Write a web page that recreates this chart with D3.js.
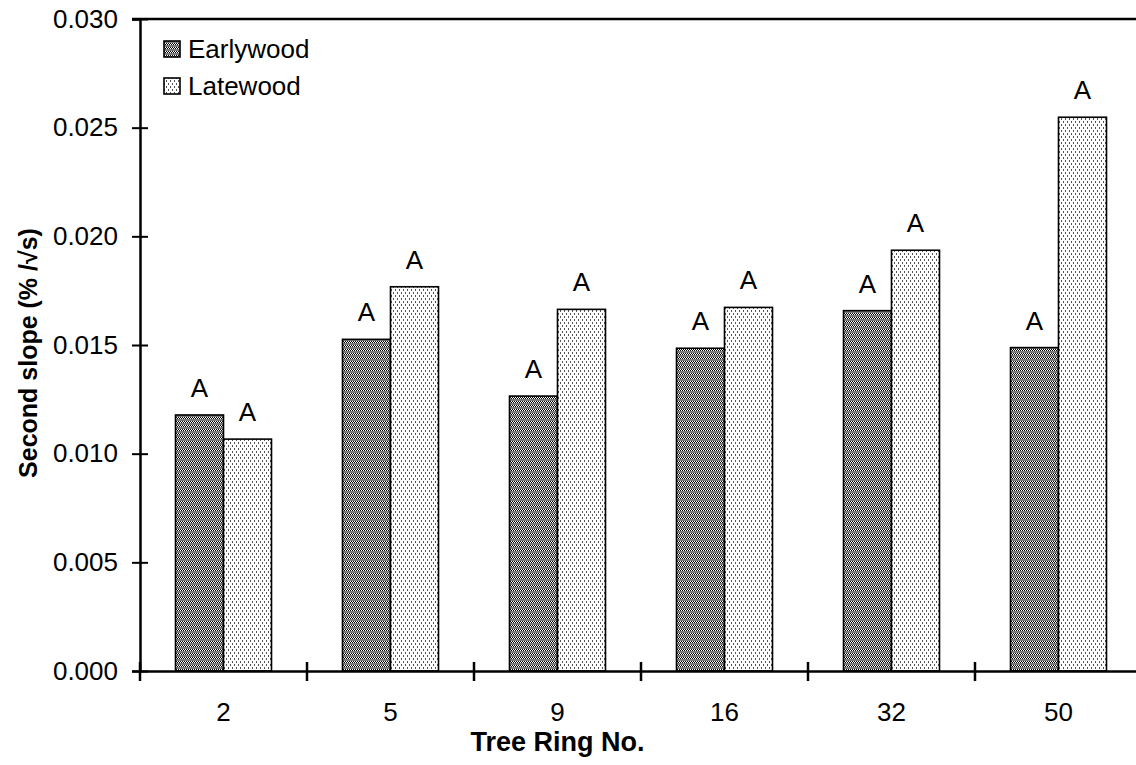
<!DOCTYPE html>
<html>
<head>
<meta charset="utf-8">
<script src="https://cdn.jsdelivr.net/npm/d3@7"></script>
<style>
  body { margin: 0; background: #fff; }
  text { font-family: Arial, "Liberation Sans", sans-serif; fill: #000; }
</style>
</head>
<body>
<svg id="chart" width="1136" height="765"></svg>
<script>
// data
const rings = ["2", "5", "9", "16", "32", "50"];
const seriesNames = ["Earlywood", "Latewood"];
const earlywood = [0.01178, 0.01526, 0.01265, 0.01485, 0.01658, 0.01488];
const latewood  = [0.01067, 0.01768, 0.01664, 0.01673, 0.01936, 0.02548];
const earlyLetters = ["A", "A", "A", "A", "A", "A"];
const lateLetters  = ["A", "A", "A", "A", "A", "A"];
const yTicks = [0, 0.005, 0.010, 0.015, 0.020, 0.025, 0.030];

const margin = { top: 19, left: 140 },
      width = 1002,
      height = 652;

const svg = d3.select("#chart");
const defs = svg.append("defs");

// earlywood fill: grey stripes with checker rows
const pe = defs.append("pattern")
    .attr("id", "patEarly")
    .attr("patternUnits", "userSpaceOnUse")
    .attr("width", 2).attr("height", 4);
pe.append("rect").attr("width", 2).attr("height", 4).attr("fill", "#fff");
pe.append("rect").attr("width", 2).attr("height", 2).attr("fill", "#7c7c7c");
pe.append("rect").attr("x", 0).attr("y", 2).attr("width", 1).attr("height", 1).attr("fill", "#000");
pe.append("rect").attr("x", 1).attr("y", 3).attr("width", 1).attr("height", 1).attr("fill", "#000");
pe.selectAll("rect").attr("shape-rendering", "crispEdges");

// latewood fill: white with sparse dots
const pl = defs.append("pattern")
    .attr("id", "patLate")
    .attr("patternUnits", "userSpaceOnUse")
    .attr("width", 4).attr("height", 6);
pl.append("rect").attr("width", 4).attr("height", 6).attr("fill", "#fff");
pl.append("rect").attr("x", 0).attr("y", 0).attr("width", 1).attr("height", 2).attr("fill", "#555");
pl.append("rect").attr("x", 2).attr("y", 3).attr("width", 1).attr("height", 2).attr("fill", "#555");
pl.selectAll("rect").attr("shape-rendering", "crispEdges");

const fills = ["url(#patEarly)", "url(#patLate)"];

const g = svg.append("g")
    .attr("transform", `translate(${margin.left},${margin.top})`);

// scales
const x0 = d3.scaleBand().domain(rings).range([0, width]).padding(0);
const bw = x0.bandwidth();
const x1 = d3.scaleBand().domain(seriesNames).range([bw / 2 - 48, bw / 2 + 48]).padding(0);
const y = d3.scaleLinear().domain([0, 0.030]).range([height, 0]);

const rows = rings.map((r, i) => ({
    ring: r,
    vals: [
        { key: seriesNames[0], v: earlywood[i], letter: earlyLetters[i] },
        { key: seriesNames[1], v: latewood[i], letter: lateLetters[i] }
    ]
}));

// bars
const grp = g.selectAll(".grp")
    .data(rows)
    .enter()
    .append("g")
    .attr("transform", d => `translate(${x0(d.ring)},0)`);

grp.selectAll("rect")
    .data(d => d.vals)
    .enter()
    .append("rect")
    .attr("x", d => x1(d.key))
    .attr("y", d => y(d.v))
    .attr("width", x1.bandwidth())
    .attr("height", d => height - y(d.v))
    .attr("fill", (d, i) => fills[i])
    .attr("stroke", "#000")
    .attr("stroke-width", 1.6);

// significance letters
grp.selectAll(".lbl")
    .data(d => d.vals)
    .enter()
    .append("text")
    .attr("x", d => x1(d.key) + x1.bandwidth() / 2)
    .attr("y", d => y(d.v) - 18)
    .attr("text-anchor", "middle")
    .style("font-size", "26px")
    .text(d => d.letter);

// top frame line
g.append("line")
    .attr("x1", -8).attr("x2", width)
    .attr("y1", 0).attr("y2", 0)
    .attr("stroke", "#000").attr("stroke-width", 2.5);
g.append("line")
    .attr("x1", width).attr("x2", width)
    .attr("y1", 0).attr("y2", height)
    .attr("stroke", "#000").attr("stroke-width", 2.5);

// Y axis
const yAxis = g.append("g")
    .call(d3.axisLeft(y).tickValues(yTicks).tickFormat(d3.format(".3f")).tickSize(8).tickPadding(14));
yAxis.select(".domain").attr("stroke-width", 2.5);
yAxis.selectAll(".tick line").attr("x1", -8).attr("x2", 8).attr("stroke-width", 2);
yAxis.selectAll(".tick text")
    .style("font-size", "26px")
    .style("font-family", "Arial, 'Liberation Sans', sans-serif");

// X axis
const xAxis = g.append("g")
    .attr("transform", `translate(0,${height})`)
    .call(d3.axisBottom(x0).tickSize(0).tickPadding(32));
xAxis.select(".domain").attr("stroke-width", 2.5);
xAxis.selectAll(".tick text")
    .style("font-size", "26px")
    .style("font-family", "Arial, 'Liberation Sans', sans-serif");

// x tick marks at category boundaries
const bounds = rings.map(r => x0(r)).concat([width]);
g.selectAll(".xtick")
    .data(bounds)
    .enter()
    .append("line")
    .attr("x1", d => d).attr("x2", d => d)
    .attr("y1", height - 9).attr("y2", height + 10)
    .attr("stroke", "#000").attr("stroke-width", 2.5);

// axis titles
svg.append("text")
    .attr("x", margin.left + x0("9") + bw / 2)
    .attr("y", 751)
    .attr("text-anchor", "middle")
    .style("font-size", "27px")
    .style("font-weight", "bold")
    .text("Tree Ring No.");

svg.append("text")
    .attr("transform", `translate(37,${margin.top + height / 2 + 8}) rotate(-90)`)
    .attr("text-anchor", "middle")
    .style("font-size", "25px")
    .style("font-weight", "bold")
    .text("Second slope (% /\u221As)");

// legend
const legend = svg.append("g").attr("transform", "translate(164,41)");
seriesNames.forEach((name, i) => {
    legend.append("rect")
        .attr("x", 0).attr("y", i * 37)
        .attr("width", 16).attr("height", 16)
        .attr("fill", fills[i])
        .attr("stroke", "#000").attr("stroke-width", 1.6);
    legend.append("text")
        .attr("x", 24).attr("y", i * 37 + 17)
        .style("font-size", "26px")
        .text(name);
});
</script>
</body>
</html>
